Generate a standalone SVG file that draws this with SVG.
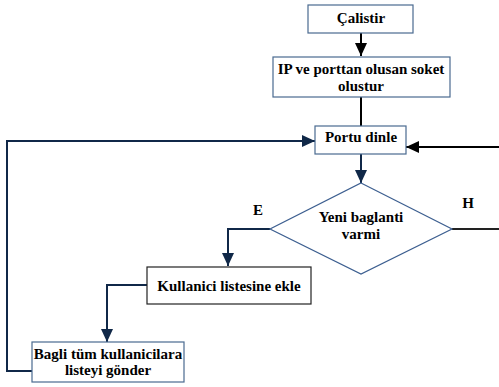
<svg xmlns="http://www.w3.org/2000/svg" width="499" height="387" viewBox="0 0 499 387">
<style>
.box{fill:#fff;stroke:#4a6a90;stroke-width:1.2}
.dark{stroke:#222}
.t{font-family:'Liberation Serif','DejaVu Serif',serif;font-weight:700;font-size:15px;fill:#000;text-anchor:middle}
.c{fill:none;stroke-width:2}
.navy{stroke:#102848}
.blk{stroke:#000}
</style>
<defs>
<marker id="an" markerUnits="userSpaceOnUse" markerWidth="14" markerHeight="12" refX="13" refY="6" orient="auto"><path d="M0,0 L13,6 L0,12 Z" fill="#102848"/></marker>
<marker id="ab" markerUnits="userSpaceOnUse" markerWidth="14" markerHeight="12" refX="13" refY="6" orient="auto"><path d="M0,0 L13,6 L0,12 Z" fill="#000"/></marker>
</defs>
<g id="connectors">
<path class="c blk" d="M361,33 V56" marker-end="url(#ab)"/>
<path class="c blk" d="M361,97 V126"/>
<path class="c navy" d="M361,154 V183" marker-end="url(#an)"/>
<path class="c blk" d="M499,147 H406" marker-end="url(#ab)"/>
<path class="c" stroke="#222" d="M452,229 H499"/>
<path class="c navy" d="M270,229 H228 V266" marker-end="url(#an)"/>
<path class="c navy" d="M147,285 H107 V342" marker-end="url(#an)"/>
<path class="c navy" d="M32,371 H7 V141 H315" marker-end="url(#an)"/>
</g>
<g id="n1"><rect class="box" x="308" y="5" width="105" height="28"/><text class="t" x="361" y="23">Çalistir</text></g>
<g id="n2"><rect class="box" x="273" y="57" width="177" height="40"/><text class="t" x="361" y="74">IP ve porttan olusan soket</text><text class="t" x="361" y="91">olustur</text></g>
<g id="n3"><rect class="box" x="315" y="126" width="91" height="28"/><text class="t" x="361" y="142">Portu dinle</text></g>
<g id="n4"><polygon points="361,183 452,229 361,274 270,229" fill="#fff" stroke="#3d5f90" stroke-width="1.2"/><text class="t" x="361" y="222">Yeni baglanti</text><text class="t" x="361" y="239">varmi</text></g>
<g id="n5"><rect class="box dark" x="147" y="267" width="164" height="37"/><text class="t" x="229" y="291">Kullanici listesine ekle</text></g>
<g id="n6"><rect class="box" x="32" y="342" width="152" height="40"/><text class="t" x="108" y="359">Bagli tüm kullanicilara</text><text class="t" x="108" y="375">listeyi gönder</text></g>
<text class="t" x="258" y="215">E</text>
<text class="t" x="468" y="208">H</text>
</svg>
